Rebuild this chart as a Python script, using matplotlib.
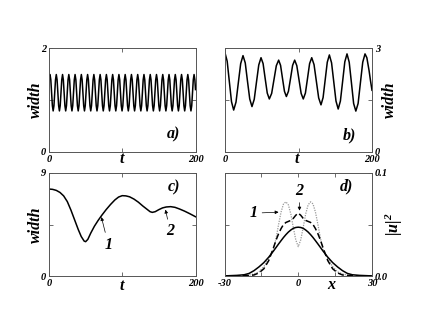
import matplotlib
matplotlib.use("Agg")
from matplotlib import pyplot as plt

plt.rcParams["font.family"] = ["Liberation Serif", "DejaVu Serif"]
plt.rcParams["font.weight"] = "bold"
plt.rcParams["font.style"] = "italic"
plt.rcParams["mathtext.fontset"] = "custom"
plt.rcParams["mathtext.it"] = "Liberation Serif:italic:bold"
plt.rcParams["mathtext.rm"] = "Liberation Serif:bold"

# panel a) : fast oscillation of the width (one cycle per line)
t_a = [0,
       1.4, 2.47, 4.61, 5.68, 6.75, 8.88,
       9.95, 11.02, 13.16, 14.23, 15.3, 17.43,
       18.5, 19.57, 21.71, 22.78, 23.85, 25.98,
       27.05, 28.12, 30.26, 31.33, 32.4, 34.53,
       35.6, 36.67, 38.81, 39.88, 40.95, 43.08,
       44.15, 45.22, 47.36, 48.43, 49.5, 51.63,
       52.7, 53.77, 55.91, 56.98, 58.05, 60.18,
       61.25, 62.32, 64.46, 65.53, 66.6, 68.73,
       69.8, 70.87, 73.01, 74.08, 75.15, 77.28,
       78.35, 79.42, 81.56, 82.63, 83.7, 85.83,
       86.9, 87.97, 90.11, 91.18, 92.25, 94.38,
       95.45, 96.52, 98.66, 99.73, 100.8, 102.93,
       104.0, 105.07, 107.21, 108.28, 109.35, 111.48,
       112.55, 113.62, 115.76, 116.83, 117.9, 120.03,
       121.1, 122.17, 124.31, 125.38, 126.45, 128.58,
       129.65, 130.72, 132.86, 133.93, 135.0, 137.13,
       138.2, 139.27, 141.41, 142.48, 143.55, 145.68,
       146.75, 147.82, 149.96, 151.03, 152.1, 154.23,
       155.3, 156.37, 158.51, 159.58, 160.65, 162.78,
       163.85, 164.92, 167.06, 168.13, 169.2, 171.33,
       172.4, 173.47, 175.61, 176.68, 177.75, 179.88,
       180.95, 182.02, 184.16, 185.23, 186.3, 188.43,
       189.5, 190.57, 192.71, 193.78, 194.85, 196.98,
       198.05, 199.12, 200]
w_a = [1.47,
       1.49, 1.39, 0.89, 0.79, 0.89, 1.39,
       1.49, 1.39, 0.89, 0.79, 0.89, 1.39,
       1.49, 1.39, 0.89, 0.79, 0.89, 1.39,
       1.49, 1.39, 0.89, 0.79, 0.89, 1.39,
       1.49, 1.39, 0.89, 0.79, 0.89, 1.39,
       1.49, 1.39, 0.89, 0.79, 0.89, 1.39,
       1.49, 1.39, 0.89, 0.79, 0.89, 1.39,
       1.49, 1.39, 0.89, 0.79, 0.89, 1.39,
       1.49, 1.39, 0.89, 0.79, 0.89, 1.39,
       1.49, 1.39, 0.89, 0.79, 0.89, 1.39,
       1.49, 1.39, 0.89, 0.79, 0.89, 1.39,
       1.49, 1.39, 0.89, 0.79, 0.89, 1.39,
       1.49, 1.39, 0.89, 0.79, 0.89, 1.39,
       1.49, 1.39, 0.89, 0.79, 0.89, 1.39,
       1.49, 1.39, 0.89, 0.79, 0.89, 1.39,
       1.49, 1.39, 0.89, 0.79, 0.89, 1.39,
       1.49, 1.39, 0.89, 0.79, 0.89, 1.39,
       1.49, 1.39, 0.89, 0.79, 0.89, 1.39,
       1.49, 1.39, 0.89, 0.79, 0.89, 1.39,
       1.49, 1.39, 0.89, 0.79, 0.89, 1.39,
       1.49, 1.39, 0.89, 0.79, 0.89, 1.39,
       1.49, 1.39, 0.89, 0.79, 0.89, 1.39,
       1.49, 1.39, 0.89, 0.79, 0.89, 1.39,
       1.49, 1.39, 1.2]

# panel b) : slower oscillation, modulated amplitude
t_b = [0, 2.95, 5.9, 8.85, 11.8, 14.98, 18.15, 21.33, 24.5, 27.55, 30.6, 33.65,
       36.7, 39.78, 42.85, 45.93, 49, 51.83, 54.65, 57.48, 60.3, 63.48, 66.65,
       69.83, 73, 75.6, 78.25, 80.9, 83.5, 86.3, 89.15, 92.0, 94.8, 97.7, 100.65,
       103.6, 106.5, 109.4, 112.25, 115.1, 118, 121.15, 124.3, 127.45, 130.6,
       133.45, 136.3, 139.15, 142, 145, 148, 151, 154, 157, 160, 163, 166, 169,
       172, 175, 178, 181.1, 184.25, 187.4, 190.5, 193, 196, 198, 200]
w_b = [2.86, 2.62, 2.03, 1.45, 1.21, 1.44, 2.0, 2.55, 2.78, 2.57, 2.04, 1.53,
       1.31, 1.52, 2.02, 2.51, 2.72, 2.55, 2.12, 1.7, 1.53, 1.69, 2.09,
       2.49, 2.65, 2.5, 2.12, 1.75, 1.6, 1.75, 2.12, 2.5, 2.65, 2.49, 2.09,
       1.69, 1.53, 1.7, 2.12, 2.55, 2.72, 2.52, 2.04, 1.56, 1.36,
       1.57, 2.08, 2.59, 2.8, 2.57, 2.02, 1.47, 1.24, 1.47, 2.03, 2.6, 2.83, 2.59,
       2.0, 1.4, 1.18, 1.4, 2.0, 2.59, 2.83, 2.72, 2.35, 2.05, 1.78]

# panel c) : damped width
t_c = [0, 5, 10, 15, 20, 25, 30, 35, 40, 44, 48, 50, 53, 57, 62, 67, 72, 78,
       84, 90, 95, 100, 105, 110, 116, 122, 128, 134, 138, 141, 145, 150, 155,
       160, 166, 172, 178, 185, 192, 200]
w_c = [7.6, 7.57, 7.48, 7.3, 7.0, 6.5, 5.75, 4.9, 4.05, 3.45, 3.05, 3.0, 3.2,
       3.75, 4.35, 4.85, 5.3, 5.8, 6.25, 6.65, 6.9, 7.02, 7.0, 6.92, 6.72,
       6.45, 6.12, 5.82, 5.62, 5.56, 5.62, 5.8, 5.95, 6.03, 6.06, 6.0, 5.86,
       5.67, 5.45, 5.18]

# panel d) : intensity profiles
x_d = [-30, -25, -22, -20, -18, -16, -14, -12, -10, -9, -8, -7, -6, -5, -4, -3,
       -2, -1, 0, 1, 2, 3, 4, 5, 6, 7, 8, 9, 10, 12, 14, 16, 18, 20, 22, 25, 30]
u_solid = [0.0001, 0.0006, 0.0012, 0.0025, 0.0052, 0.0088, 0.013, 0.0183,
           0.0245, 0.0278, 0.0311, 0.0343, 0.0374, 0.0402, 0.0427, 0.0447,
           0.0463, 0.0471, 0.0474, 0.0471, 0.0463, 0.0447, 0.0427, 0.0402,
           0.0374, 0.0343, 0.0311, 0.0278, 0.0245, 0.0183, 0.013, 0.0088,
           0.0052, 0.0025, 0.0012, 0.0006, 0.0001]
u_dashed = [0.0, 0.0001, 0.0003, 0.0005, 0.001, 0.003, 0.007, 0.015, 0.028,
            0.035, 0.041, 0.046, 0.05, 0.052, 0.053, 0.054, 0.056, 0.059, 0.061,
            0.059, 0.056, 0.054, 0.053, 0.052, 0.05, 0.046, 0.041, 0.035,
            0.028, 0.015, 0.007, 0.003, 0.001, 0.0005, 0.0003, 0.0001, 0.0]
u_dotted = [0.0, 0.0002, 0.0005, 0.0008, 0.002, 0.004, 0.009, 0.017, 0.026,
            0.037, 0.05, 0.062, 0.07, 0.072, 0.069, 0.06, 0.047, 0.035, 0.0285,
            0.035, 0.047, 0.06, 0.069, 0.072, 0.07, 0.062, 0.05, 0.037,
            0.026, 0.017, 0.009, 0.004, 0.002, 0.0008, 0.0005, 0.0002, 0.0]

W, H = 423, 327
fig = plt.figure(figsize=(W / 100, H / 100), dpi=100)


def box(l, r, top, bot):
    return [l / W, (H - bot) / H, (r - l) / W, (bot - top) / H]


axA = fig.add_axes(box(49, 195.5, 48, 152))
axB = fig.add_axes(box(225, 372, 48, 152))
axC = fig.add_axes(box(49, 195.5, 173, 276))
axD = fig.add_axes(box(224.5, 372, 173, 276))

lblfont = dict(fontsize=11.5, fontweight="bold", fontstyle="italic")
arrow = dict(arrowstyle="-|>", lw=0.5, color="black", mutation_scale=5,
             shrinkA=1, shrinkB=0)

for ax in [axA, axB, axC, axD]:
    for s in ax.spines.values():
        s.set_linewidth(0.7)
        s.set_color("#555555")
    ax.tick_params(direction="in", length=3, width=0.6, color="#555555",
                   top=True, right=True, labelsize=7.5, pad=2)

axA.plot(t_a, w_a, color="black", lw=1.1)
axA.set_xlim(0, 200)
axA.set_ylim(0, 2)
axA.set_xticks([0, 100, 200], ["0", "", "200"])
axA.set_yticks([0, 1, 2], ["0", "", "2"])
axA.text(170, 0.33, "a)", ha="center", va="center", **lblfont)

axB.plot(t_b, w_b, color="black", lw=1.1)
axB.set_xlim(0, 200)
axB.set_ylim(0, 3)
axB.set_xticks([0, 100, 200], ["0", "", "200"])
axB.set_yticks([0, 1.5, 3], ["0", "", "3"])
axB.tick_params(labelleft=False, labelright=True)
axB.text(170, 0.49, "b)", ha="center", va="center", **lblfont)

axC.plot(t_c, w_c, color="black", lw=1.1)
axC.set_xlim(0, 200)
axC.set_ylim(0, 9)
axC.set_xticks([0, 100, 200], ["0", "", "200"])
axC.set_yticks([0, 4.5, 9], ["0", "", "9"])
axC.text(170, 7.75, "c)", ha="center", va="center", **lblfont)
axC.annotate("1", xy=(71.5, 5.15), xytext=(81, 2.75), ha="center", va="center",
             arrowprops=arrow, **lblfont)
axC.annotate("2", xy=(159, 5.8), xytext=(165.5, 3.9), ha="center", va="center",
             arrowprops=arrow, **lblfont)

axD.plot(x_d, u_dotted, color="#999999", lw=0.9, ls=(0, (1, 1)))
axD.plot(x_d, u_dashed, color="black", lw=1.1, ls=(0, (4, 2)))
axD.plot(x_d, u_solid, color="black", lw=1.1)
axD.set_xlim(-30, 30)
axD.set_ylim(0, 0.1)
axD.set_xticks([-30, -15, 0, 15, 30], ["-30", "", "0", "", "30"])
axD.set_yticks([0, 0.05, 0.1], ["0.0", "", "0.1"])
axD.tick_params(labelleft=False, labelright=True)
axD.text(19.6, 0.0867, "d)", ha="center", va="center", **lblfont)
axD.annotate("2", xy=(0.5, 0.0635), xytext=(0.5, 0.083), ha="center", va="center",
             arrowprops=arrow, **lblfont)
axD.annotate("1", xy=(-8.0, 0.062), xytext=(-18, 0.061), ha="center", va="center",
             arrowprops=arrow, **lblfont)

# axis titles
for ax, xl, yl, xlx, xly, ylx in [(axA, "t", "width", 0.5, -0.07, -0.09),
                                  (axB, "t", "width", 0.49, -0.07, 1.12),
                                  (axC, "t", "width", 0.5, -0.1, -0.09),
                                  (axD, "x", r"$|u|^{2}$", 0.726, -0.09, 1.15)]:
    ax.set_xlabel(xl, **lblfont)
    ax.xaxis.set_label_coords(xlx, xly)
    ax.xaxis.label.set_va("center")
    ax.set_ylabel(yl, **lblfont)
    ax.yaxis.set_label_coords(ylx, 0.5)
    ax.yaxis.label.set_va("center")

plt.savefig("out.png", dpi=100)
